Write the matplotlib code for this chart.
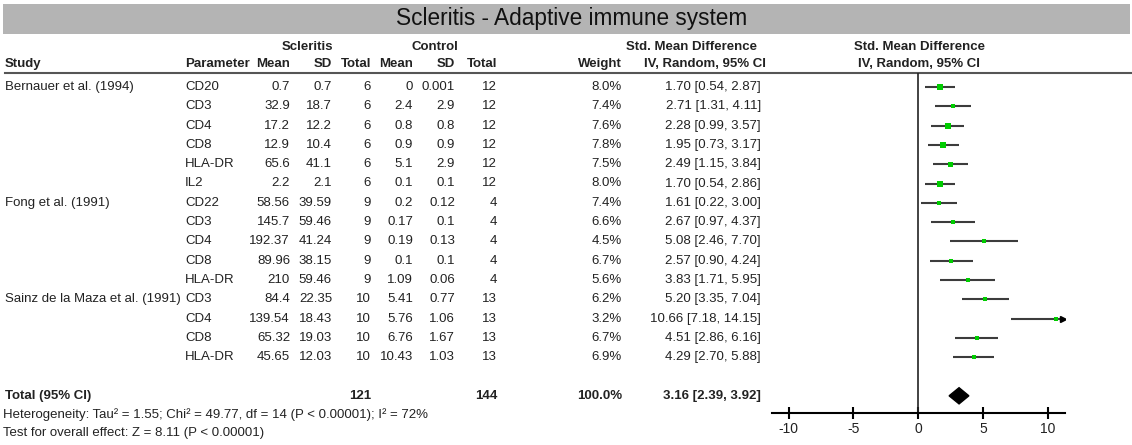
import matplotlib
matplotlib.use("Agg")
import matplotlib.pyplot as plt
from matplotlib.patches import Polygon, Rectangle

plt.rcParams['font.family'] = ['Liberation Sans', 'DejaVu Sans']

# table data, one entry per row
studies = ["Bernauer et al. (1994)", "", "", "", "", "",
           "Fong et al. (1991)", "", "", "", "",
           "Sainz de la Maza et al. (1991)", "", "", ""]
params = ["CD20", "CD3", "CD4", "CD8", "HLA-DR", "IL2",
          "CD22", "CD3", "CD4", "CD8", "HLA-DR",
          "CD3", "CD4", "CD8", "HLA-DR"]
sc_mean = ["0.7", "32.9", "17.2", "12.9", "65.6", "2.2",
           "58.56", "145.7", "192.37", "89.96", "210",
           "84.4", "139.54", "65.32", "45.65"]
sc_sd = ["0.7", "18.7", "12.2", "10.4", "41.1", "2.1",
         "39.59", "59.46", "41.24", "38.15", "59.46",
         "22.35", "18.43", "19.03", "12.03"]
sc_n = [6, 6, 6, 6, 6, 6, 9, 9, 9, 9, 9, 10, 10, 10, 10]
ct_mean = ["0", "2.4", "0.8", "0.9", "5.1", "0.1",
           "0.2", "0.17", "0.19", "0.1", "1.09",
           "5.41", "5.76", "6.76", "10.43"]
ct_sd = ["0.001", "2.9", "0.8", "0.9", "2.9", "0.1",
         "0.12", "0.1", "0.13", "0.1", "0.06",
         "0.77", "1.06", "1.67", "1.03"]
ct_n = [12, 12, 12, 12, 12, 12, 4, 4, 4, 4, 4, 13, 13, 13, 13]
weight = [8.0, 7.4, 7.6, 7.8, 7.5, 8.0, 7.4, 6.6, 4.5, 6.7, 5.6, 6.2, 3.2, 6.7, 6.9]
smd = [1.70, 2.71, 2.28, 1.95, 2.49, 1.70, 1.61, 2.67, 5.08, 2.57, 3.83, 5.20, 10.66, 4.51, 4.29]
lo = [0.54, 1.31, 0.99, 0.73, 1.15, 0.54, 0.22, 0.97, 2.46, 0.90, 1.71, 3.35, 7.18, 2.86, 2.70]
hi = [2.87, 4.11, 3.57, 3.17, 3.84, 2.86, 3.00, 4.37, 7.70, 4.24, 5.95, 7.04, 14.15, 6.16, 5.88]

# pooled result
tot_sc, tot_ct, tot_weight = 121, 144, 100.0
pool_smd, pool_lo, pool_hi = 3.16, 2.39, 3.92
het_text = "Heterogeneity: Tau\u00b2 = 1.55; Chi\u00b2 = 49.77, df = 14 (P < 0.00001); I\u00b2 = 72%"
eff_text = "Test for overall effect: Z = 8.11 (P < 0.00001)"
xticks = [-10, -5, 0, 5, 10]

W, H = 1132, 445
fig = plt.figure(figsize=(W / 100, H / 100), dpi=100)

# text layer in pixel units
tab = fig.add_axes([0, 0, 1, 1])
tab.set_xlim(0, W)
tab.set_ylim(H, 0)
tab.axis('off')

FS = 9.5
y0, dy = 87, 19.3
total_row = 16

def ry(i):
    return y0 + dy * i

# title bar
tab.add_patch(Rectangle((3, 4), W - 5, 30, color='#b4b4b4', lw=0))
tab.text(572, 19, "Scleritis - Adaptive immune system", fontsize=16.3,
         ha='center', va='center', color='#111111')

# header
hdr = dict(fontsize=FS, fontweight='bold', va='center', color='#222222')
tab.text(307, 47, "Scleritis", ha='center', **hdr)
tab.text(435, 47, "Control", ha='center', **hdr)
tab.text(691, 47, "Std. Mean Difference", ha='center', **hdr)
tab.text(919, 47, "Std. Mean Difference", ha='center', **hdr)
tab.text(5, 64, "Study", ha='left', **hdr)
tab.text(185, 64, "Parameter", ha='left', **hdr)
for x, s in [(290, "Mean"), (332, "SD"), (371, "Total"), (413, "Mean"),
             (455, "SD"), (497, "Total"), (622, "Weight")]:
    tab.text(x, 64, s, ha='right', **hdr)
tab.text(705, 64, "IV, Random, 95% CI", ha='center', **hdr)
tab.text(919, 64, "IV, Random, 95% CI", ha='center', **hdr)
tab.plot([5, W], [73, 73], color='#555555', lw=1.5)

# rows
body = dict(fontsize=FS, va='center', color='#222222')
for i in range(len(params)):
    y = ry(i)
    tab.text(5, y, studies[i], ha='left', **body)
    tab.text(185, y, params[i], ha='left', **body)
    tab.text(290, y, sc_mean[i], ha='right', **body)
    tab.text(332, y, sc_sd[i], ha='right', **body)
    tab.text(371, y, str(sc_n[i]), ha='right', **body)
    tab.text(413, y, ct_mean[i], ha='right', **body)
    tab.text(455, y, ct_sd[i], ha='right', **body)
    tab.text(497, y, str(ct_n[i]), ha='right', **body)
    tab.text(622, y, f"{weight[i]:.1f}%", ha='right', **body)
    tab.text(761, y, f"{smd[i]:.2f} [{lo[i]:.2f}, {hi[i]:.2f}]", ha='right', **body)

yt = ry(total_row)
tab.text(5, yt, "Total (95% CI)", ha='left', **hdr)
tab.text(371, yt, str(tot_sc), ha='right', **hdr)
tab.text(497, yt, str(tot_ct), ha='right', **hdr)
tab.text(622, yt, f"{tot_weight:.1f}%", ha='right', **hdr)
tab.text(761, yt, f"{pool_smd:.2f} [{pool_lo:.2f}, {pool_hi:.2f}]", ha='right', **hdr)
tab.text(3, 415, het_text, ha='left', **body)
tab.text(3, 433, eff_text, ha='left', **body)

# forest plot
ax = fig.add_axes([772 / W, (H - 413) / H, (1065 - 772) / W, (413 - 73) / H])
ax.patch.set_alpha(0)
xmin, xmax = -11.3, 11.35
ax.set_xlim(xmin, xmax)
ax.set_ylim((413 - y0) / dy, (73 - y0) / dy)
for s in ['top', 'right', 'left']:
    ax.spines[s].set_visible(False)
ax.spines['bottom'].set_linewidth(1.5)
ax.set_yticks([])
ax.set_xticks(xticks)
ax.set_xticklabels([str(t) for t in xticks])
ax.tick_params(axis='x', direction='inout', length=9, width=1.5, pad=2,
               labelsize=FS + 0.5, labelcolor='#222222')
ax.axvline(0, color='#222222', lw=1.2)

for i in range(len(smd)):
    right = min(hi[i], xmax - 0.15)
    ax.plot([lo[i], right], [i, i], color='#3c3c3c', lw=1.5, solid_capstyle='butt')
    if hi[i] > xmax:
        ax.plot(right, i, marker='>', color='black', ms=5)
    ax.plot(smd[i], i, marker='s', color='#00cc00', ms=3.0 + 0.08 * weight[i], mew=0)

hd = 0.42
ax.add_patch(Polygon([(pool_lo, total_row), (pool_smd, total_row - hd),
                      (pool_hi, total_row), (pool_smd, total_row + hd)],
                     closed=True, color='black'))

fig.savefig("out.png", dpi=100)
